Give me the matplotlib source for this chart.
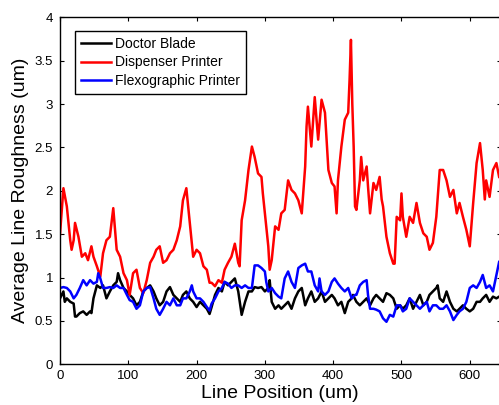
import matplotlib
matplotlib.use("Agg")
import matplotlib.pyplot as plt

plt.rcParams['font.family'] = ['Liberation Sans', 'DejaVu Sans']

# values (Line Position in um, roughness in um)
blade_x = [0, 5, 7, 10, 15, 20, 22, 24, 29, 34, 39, 44, 46, 49, 54, 59, 63, 68, 73, 78,
           83, 85, 88, 93, 98, 102, 107, 112, 117, 122, 127, 132, 137, 141, 146, 151, 156,
           161, 166, 171, 176, 180, 185, 190, 195, 200, 205, 210, 215, 219, 222, 227, 232,
           237, 241, 246, 251, 256, 261, 266, 271, 276, 281, 285, 290, 295, 300, 305, 307,
           310, 315, 320, 324, 329, 334, 339, 344, 349, 354, 359, 363, 368, 373, 378, 383,
           388, 393, 398, 402, 407, 412, 417, 422, 427, 429, 434, 439, 444, 449, 454, 459,
           463, 468, 473, 478, 483, 488, 493, 498, 502, 507, 512, 517, 522, 527, 532, 537,
           541, 546, 551, 553, 556, 561, 566, 571, 576, 581, 585, 590, 595, 600, 605, 610,
           615, 619, 624, 629, 634, 639, 643]
blade_y = [0.76, 0.84, 0.72, 0.76, 0.72, 0.70, 0.55, 0.55, 0.59, 0.61, 0.57, 0.61, 0.59,
           0.76, 0.91, 0.88, 0.91, 0.76, 0.84, 0.91, 0.95, 1.05, 0.97, 0.88, 0.84, 0.80,
           0.76, 0.68, 0.72, 0.84, 0.88, 0.91, 0.84, 0.76, 0.68, 0.72, 0.84, 0.89, 0.80,
           0.76, 0.72, 0.80, 0.84, 0.76, 0.72, 0.66, 0.72, 0.68, 0.64, 0.58, 0.66, 0.80,
           0.88, 0.84, 0.95, 0.91, 0.95, 0.99, 0.84, 0.57, 0.72, 0.84, 0.84, 0.89, 0.88,
           0.89, 0.84, 0.88, 0.97, 0.72, 0.64, 0.68, 0.64, 0.68, 0.72, 0.64, 0.76, 0.84,
           0.88, 0.68, 0.76, 0.84, 0.72, 0.76, 0.84, 0.72, 0.76, 0.80, 0.76, 0.68, 0.72,
           0.59, 0.72, 0.76, 0.80, 0.72, 0.68, 0.72, 0.76, 0.68, 0.76, 0.80, 0.76, 0.72,
           0.82, 0.80, 0.76, 0.64, 0.68, 0.64, 0.68, 0.76, 0.64, 0.72, 0.80, 0.68, 0.72,
           0.80, 0.84, 0.88, 0.91, 0.76, 0.72, 0.84, 0.72, 0.64, 0.61, 0.64, 0.68, 0.64,
           0.61, 0.64, 0.72, 0.72, 0.76, 0.80, 0.72, 0.78, 0.76, 0.78]

disp_x = [0, 5, 10, 15, 17, 20, 22, 27, 32, 37, 41, 46, 49, 54, 59, 63, 68, 73, 78, 83,
          88, 93, 98, 102, 107, 112, 117, 122, 127, 132, 137, 141, 146, 151, 156, 161, 166,
          171, 176, 180, 185, 190, 195, 200, 205, 210, 215, 219, 222, 227, 232, 237, 241,
          246, 251, 256, 261, 263, 266, 271, 276, 281, 285, 290, 295, 297, 300, 305, 307,
          310, 315, 320, 324, 329, 334, 339, 344, 349, 354, 359, 361, 363, 368, 373, 378,
          383, 388, 393, 398, 402, 405, 407, 412, 417, 422, 424, 426, 428, 430, 432, 434,
          439, 441, 444, 449, 451, 454, 459, 463, 468, 471, 473, 478, 483, 488, 490, 493,
          498, 500, 502, 507, 512, 517, 522, 527, 532, 537, 541, 546, 551, 556, 561, 566,
          571, 576, 581, 585, 590, 595, 600, 605, 610, 615, 619, 622, 624, 629, 634, 639,
          643]
disp_y = [1.50, 2.03, 1.82, 1.43, 1.32, 1.43, 1.63, 1.47, 1.24, 1.28, 1.20, 1.36, 1.24,
          1.13, 1.01, 1.28, 1.43, 1.47, 1.80, 1.32, 1.24, 1.05, 0.97, 0.80, 1.05, 1.09,
          0.88, 0.82, 0.97, 1.17, 1.24, 1.32, 1.36, 1.17, 1.20, 1.28, 1.32, 1.43, 1.59,
          1.89, 2.03, 1.63, 1.24, 1.32, 1.28, 1.13, 1.09, 0.94, 0.94, 0.90, 0.97, 0.94,
          1.09, 1.17, 1.24, 1.39, 1.17, 1.13, 1.66, 1.89, 2.24, 2.51, 2.39, 2.20, 2.16,
          1.97, 1.74, 1.36, 1.09, 1.20, 1.59, 1.55, 1.74, 1.78, 2.12, 2.01, 1.97, 1.89,
          1.74, 2.28, 2.74, 2.97, 2.51, 3.08, 2.59, 3.05, 2.90, 2.24, 2.09, 2.05, 1.74,
          2.12, 2.51, 2.82, 2.90, 3.28, 3.74, 3.00, 2.51, 1.82, 1.78, 2.12, 2.39, 2.12,
          2.28, 2.05, 1.74, 2.09, 2.01, 2.16, 1.90, 1.82, 1.47, 1.28, 1.16, 1.16, 1.70,
          1.66, 1.97, 1.70, 1.47, 1.70, 1.63, 1.86, 1.63, 1.51, 1.47, 1.32, 1.40, 1.70,
          2.24, 2.24, 2.12, 1.93, 2.01, 1.74, 1.86, 1.70, 1.55, 1.36, 1.86, 2.32, 2.55,
          2.24, 1.90, 2.12, 1.93, 2.24, 2.32, 2.16]

flexo_x = [0, 5, 10, 15, 20, 24, 29, 34, 39, 44, 49, 54, 56, 59, 63, 68, 73, 78, 83, 88,
           93, 98, 102, 107, 112, 117, 122, 127, 132, 137, 141, 146, 151, 156, 161, 166,
           171, 176, 180, 185, 190, 193, 195, 200, 205, 210, 215, 219, 222, 227, 232, 237,
           241, 246, 251, 256, 261, 266, 271, 276, 281, 285, 290, 295, 300, 302, 305, 310,
           315, 320, 324, 329, 334, 339, 344, 349, 354, 359, 363, 368, 373, 378, 380, 383,
           388, 393, 398, 402, 407, 412, 417, 422, 427, 432, 434, 439, 444, 449, 451, 454,
           459, 463, 468, 473, 478, 483, 488, 493, 498, 502, 507, 512, 517, 522, 527, 532,
           537, 541, 546, 551, 556, 561, 566, 571, 576, 581, 585, 590, 595, 600, 605, 610,
           615, 619, 624, 629, 634, 639, 643]
flexo_y = [0.88, 0.89, 0.88, 0.84, 0.76, 0.80, 0.88, 0.97, 0.91, 0.97, 0.93, 0.95, 1.05,
           0.99, 0.88, 0.88, 0.89, 0.88, 0.91, 0.88, 0.88, 0.80, 0.74, 0.72, 0.64, 0.68,
           0.84, 0.88, 0.89, 0.76, 0.64, 0.57, 0.64, 0.72, 0.68, 0.76, 0.68, 0.68, 0.76,
           0.76, 0.84, 0.91, 0.84, 0.76, 0.76, 0.72, 0.66, 0.62, 0.70, 0.76, 0.84, 0.88,
           0.95, 0.93, 0.88, 0.91, 0.91, 0.88, 0.91, 0.88, 0.88, 1.14, 1.14, 1.11, 1.07,
           0.95, 0.84, 0.88, 0.82, 0.78, 0.76, 0.99, 1.07, 0.95, 0.88, 1.11, 1.14, 1.16,
           1.07, 1.07, 0.91, 0.84, 0.99, 0.84, 0.80, 0.84, 0.95, 0.99, 0.93, 0.88, 0.84,
           0.88, 0.76, 0.80, 0.80, 0.91, 0.95, 0.97, 0.80, 0.64, 0.64, 0.63, 0.61, 0.53,
           0.49, 0.57, 0.55, 0.68, 0.68, 0.61, 0.64, 0.76, 0.72, 0.68, 0.64, 0.68, 0.72,
           0.61, 0.68, 0.68, 0.64, 0.64, 0.68, 0.61, 0.51, 0.57, 0.61, 0.64, 0.72, 0.88,
           0.91, 0.88, 0.95, 1.03, 0.88, 0.91, 0.84, 1.03, 1.18]

x_ticks = [0, 100, 200, 300, 400, 500, 600]
y_ticks = [0, 0.5, 1, 1.5, 2, 2.5, 3, 3.5, 4]
y_tick_labels = ["0", "0.5", "1", "1.5", "2", "2.5", "3", "3.5", "4"]

fig = plt.figure(figsize=(4.99, 4.05), dpi=100)
ax = fig.add_axes([60 / 499, 40.7 / 405, 440.5 / 499, 347 / 405])

ax.plot(blade_x, blade_y, color='black', lw=1.8, label="Doctor Blade")
ax.plot(disp_x, disp_y, color='red', lw=1.8, label="Dispenser Printer")
ax.plot(flexo_x, flexo_y, color='blue', lw=1.8, label="Flexographic Printer")

ax.set_xlim(0, 645)
ax.set_ylim(0, 4)
ax.set_xticks(x_ticks)
ax.set_yticks(y_ticks)
ax.set_yticklabels(y_tick_labels)
ax.tick_params(direction='in', top=True, right=True, length=3, width=0.8,
               labelsize=9.5, colors='black')
ax.tick_params(axis='x', pad=4)
ax.tick_params(axis='y', pad=5)
for sp in ax.spines.values():
    sp.set_linewidth(1.0)

ax.set_xlabel("Line Position (um)", fontsize=14, labelpad=2)
ax.set_ylabel("Average Line Roughness (um)", fontsize=14, labelpad=4)

leg = ax.legend(loc='upper left', bbox_to_anchor=(0.034, 0.9605), borderaxespad=0,
                fontsize=10, handlelength=2.2, handletextpad=0.3, labelspacing=0.35,
                borderpad=0.4, fancybox=False, framealpha=1, edgecolor='black')
leg.get_frame().set_linewidth(1.0)

fig.savefig("out.png", dpi=100)
